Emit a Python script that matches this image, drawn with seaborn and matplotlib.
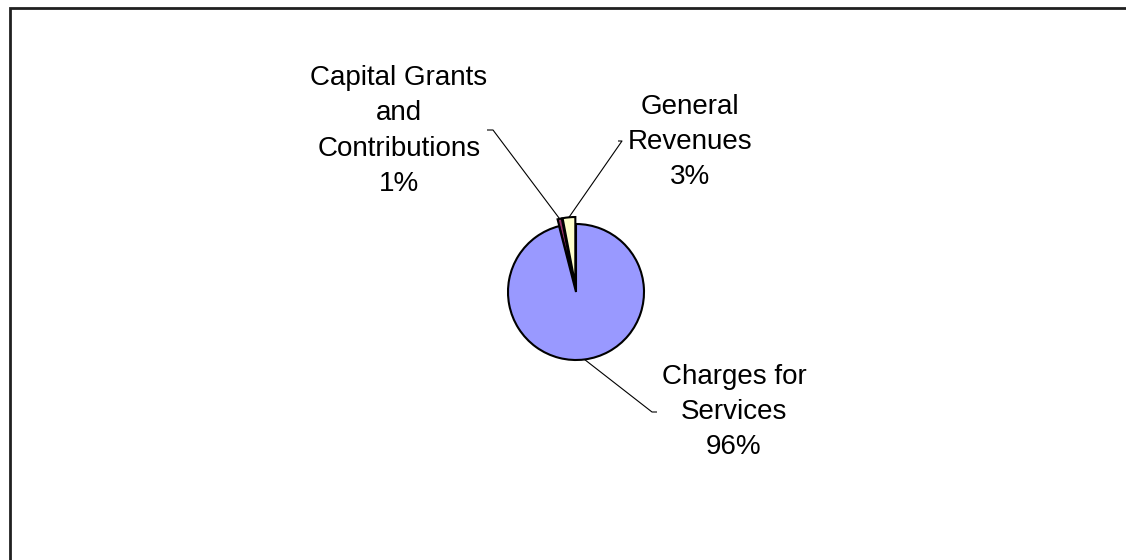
import numpy as np
import matplotlib
matplotlib.use("Agg")
import matplotlib.pyplot as plt
from matplotlib.patches import Rectangle
import seaborn as sns

# Revenue sources (percent of total)
categories = ["General\nRevenues", "Capital Grants\nand\nContributions", "Charges for\nServices"]
shares = [3, 1, 96]
pct_labels = ["3%", "1%", "96%"]
colors = ["#FFFFCC", "#993366", "#9999FF"]
explode_px = [7, 7, 0]

sns.set_theme(style="white")
plt.rcParams["font.family"] = ["Liberation Sans", "DejaVu Sans"]

W, H = 1126, 560
fig = plt.figure(figsize=(W / 100, H / 100), dpi=100)
ax = fig.add_axes([0, 0, 1, 1])

cx, cy, r = 576, H - 292, 68
wedges, _ = ax.pie(shares, colors=colors, explode=explode_px, startangle=90,
                   counterclock=True, center=(cx, cy), radius=r, frame=True,
                   wedgeprops=dict(edgecolor="black", linewidth=1.5))
ax.set_xlim(0, W)
ax.set_ylim(0, H)
ax.set_aspect("equal")
ax.axis("off")

# label text centres and leader-line start points (pixel coords, y down)
label_xy = [(690, 142), (399, 131), (734, 412)]
leader_start = [((618, 141), (622, 141)), ((487, 130), (493, 130)), ((657, 412), (652, 412))]

for w, cat, pct, (lx, ly), (p0, p1) in zip(wedges, categories, pct_labels, label_xy, leader_start):
    ax.text(lx, H - ly, f"{cat}\n{pct}", ha="center", va="center",
            fontsize=20, linespacing=1.46, color="black")
    th = np.deg2rad(0.5 * (w.theta1 + w.theta2))
    wx, wy = w.center
    ax_pt = (wx + w.r * np.cos(th), wy + w.r * np.sin(th))
    ax.plot([p0[0], p1[0], ax_pt[0]], [H - p0[1], H - p1[1], ax_pt[1]],
            color="black", lw=0.8, solid_capstyle="butt")

# chart-area border
ax.add_patch(Rectangle((10, -20), W + 40, H - 8 + 20, fill=False,
                       edgecolor="#202020", linewidth=2, clip_on=False))

fig.savefig("out.png", dpi=100)
